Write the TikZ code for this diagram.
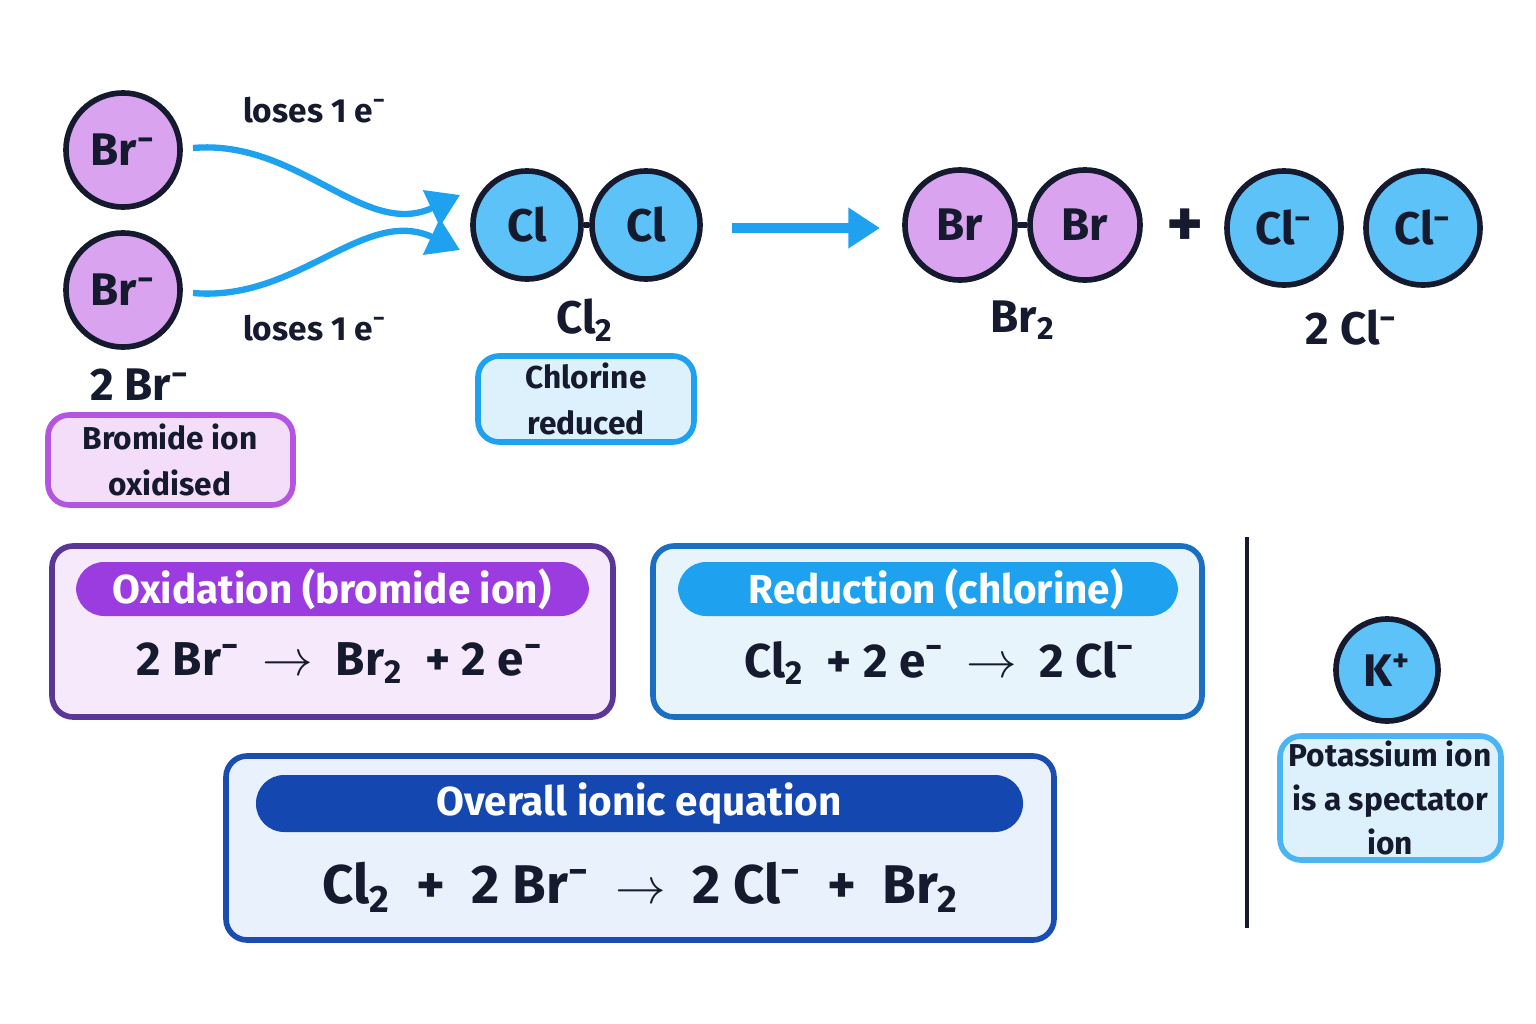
\documentclass[tikz,border=0pt]{standalone}
\usepackage{fontspec}
\setmainfont{Fira Sans}
\usetikzlibrary{arrows.meta}
\definecolor{brfill}{HTML}{D9A3F0}
\definecolor{clfill}{HTML}{5CC2F7}
\definecolor{ink}{HTML}{161A2E}
\definecolor{skyline}{HTML}{1EA2F0}
\definecolor{purpline}{HTML}{B355E0}
\definecolor{purpbg}{HTML}{F3DDF9}
\definecolor{bluebg}{HTML}{DDF1FC}
\definecolor{oxline}{HTML}{5A3696}
\definecolor{oxbg}{HTML}{F6E9FB}
\definecolor{oxhead}{HTML}{9B3CE0}
\definecolor{redline}{HTML}{1B6FC2}
\definecolor{redbg}{HTML}{E7F4FC}
\definecolor{allline}{HTML}{1A4DB2}
\definecolor{allbg}{HTML}{E9F2FC}
\definecolor{allhead}{HTML}{1447B0}
\newcommand{\minus}{\textsuperscript{\char"2212}}
\newcommand{\plusup}{\textsuperscript{+}}
\newcommand{\two}{\textsubscript{2}}
\tikzset{
  atom/.style={circle, draw=ink, line width=1.6pt, inner sep=0pt,
    font=\fontsize{13}{15}\selectfont\bfseries, text=ink},
  bromine/.style={atom, fill=brfill, minimum size=1.14cm},
  chlorine/.style={atom, fill=clfill, minimum size=1.08cm},
  formula/.style={font=\fontsize{13}{15}\selectfont\bfseries, text=ink},
  note/.style={font=\fontsize{10}{12}\selectfont\bfseries, text=ink, align=center},
  flow/.style={-{Triangle[length=9pt,width=11pt]}, draw=skyline, line width=2.2pt},
  card/.style={rounded corners=6pt, line width=1.6pt},
  head/.style={rounded corners=8pt, text=white,
    font=\fontsize{11.5}{14}\selectfont\bfseries},
  eqn/.style={font=\fontsize{13.5}{16}\selectfont\bfseries, text=ink}
}
\begin{document}
\begin{tikzpicture}[x=0.01cm, y=-0.01cm]
  \useasboundingbox (0,0) rectangle (1536,1024);

  % bromide ions
  \node[bromine] (br1) at (123,150) {Br\minus};
  \node[bromine] (br2) at (123,290) {Br\minus};
  \node[formula] (twobr) at (140,385) {2 Br\minus};
  \node[note, font=\fontsize{9.5}{11.5}\selectfont\bfseries] (loss1) at (315,110) {loses 1 e\minus};
  \node[note, font=\fontsize{9.5}{11.5}\selectfont\bfseries] (loss2) at (315,328) {loses 1 e\minus};

  % chlorine molecule
  \node[chlorine] (cl1) at (527,225) {Cl};
  \node[chlorine] (cl2) at (646,225) {Cl};
  \draw[ink, line width=1.6pt] (cl1) -- (cl2);
  \node[formula] (cltwo) at (585,320) {Cl\two};
  \coordinate (hit1) at (460,195);
  \coordinate (hit2) at (460,250);
  \draw[flow, line width=1.8pt] (193,148) to[out=5, in=-155] (hit1);
  \draw[flow, line width=1.8pt] (193,293) to[out=-5, in=155] (hit2);

  % label cards
  \draw[card, draw=purpline, fill=purpbg] (48,415) rectangle (293,505);
  \node[note, font=\fontsize{9}{13}\selectfont\bfseries] (oxnote) at (170,460) {Bromide ion\\oxidised};
  \draw[card, draw=skyline, fill=bluebg] (478,356) rectangle (694,442);
  \node[note, font=\fontsize{9}{13}\selectfont\bfseries] (rednote) at (586,399) {Chlorine\\reduced};

  % products
  \coordinate (go) at (732,228);
  \coordinate (stop) at (880,228);
  \draw[flow, line width=3pt] (go) -- (stop);
  \node[bromine, minimum size=1.1cm] (pb1) at (960,225) {Br};
  \node[bromine, minimum size=1.1cm] (pb2) at (1085,225) {Br};
  \draw[ink, line width=1.6pt] (pb1) -- (pb2);
  \node[formula] (brtwo) at (1023,320) {Br\two};
  \node[formula, font=\fontsize{20}{22}\selectfont\bfseries] (plus) at (1185,228) {+};
  \node[chlorine, minimum size=1.14cm] (pc1) at (1284,228) {Cl\minus};
  \node[chlorine, minimum size=1.14cm] (pc2) at (1423,228) {Cl\minus};
  \node[formula] (twocl) at (1352,328) {2 Cl\minus};

  % half equations
  \draw[card, draw=oxline, fill=oxbg] (52,546) rectangle (613,717);
  \fill[oxhead, rounded corners=8pt] (76,562) rectangle (589,616);
  \node[head] (oxhd) at (332,589) {Oxidation (bromide ion)};
  \node[eqn] (oxeq) at (340,663) {2 Br\minus\ \ $\rightarrow$\ \ Br\two\ \ + 2 e\minus};
  \draw[card, draw=redline, fill=redbg] (653,546) rectangle (1202,717);
  \fill[skyline, rounded corners=8pt] (678,562) rectangle (1178,616);
  \node[head] (redhd) at (936,589) {Reduction (chlorine)};
  \node[eqn] (redeq) at (940,663) {Cl\two\ \ + 2 e\minus\ \ $\rightarrow$\ \ 2 Cl\minus};

  % overall equation
  \draw[card, draw=allline, fill=allbg] (226,756) rectangle (1054,940);
  \fill[allhead, rounded corners=8pt] (256,775) rectangle (1023,832);
  \node[head] (allhd) at (639,804) {Overall ionic equation};
  \node[eqn, font=\fontsize{15.5}{18}\selectfont\bfseries] (alleq) at (641,887)
    {Cl\two\ \ + \ 2 Br\minus\ \ $\rightarrow$\ \ 2 Cl\minus\ \ + \ Br\two};

  % spectator
  \draw[ink, line width=1.4pt] (1247,537) -- (1247,928);
  \node[chlorine, minimum size=1.02cm] (kion) at (1387,670) {K\plusup};
  \draw[card, draw=skyline!80, fill=bluebg] (1280,736) rectangle (1501,860);
  \node[note, font=\fontsize{9}{12.5}\selectfont\bfseries] (knote) at (1390,798) {Potassium ion\\is a spectator\\ion};
\end{tikzpicture}
\end{document}
